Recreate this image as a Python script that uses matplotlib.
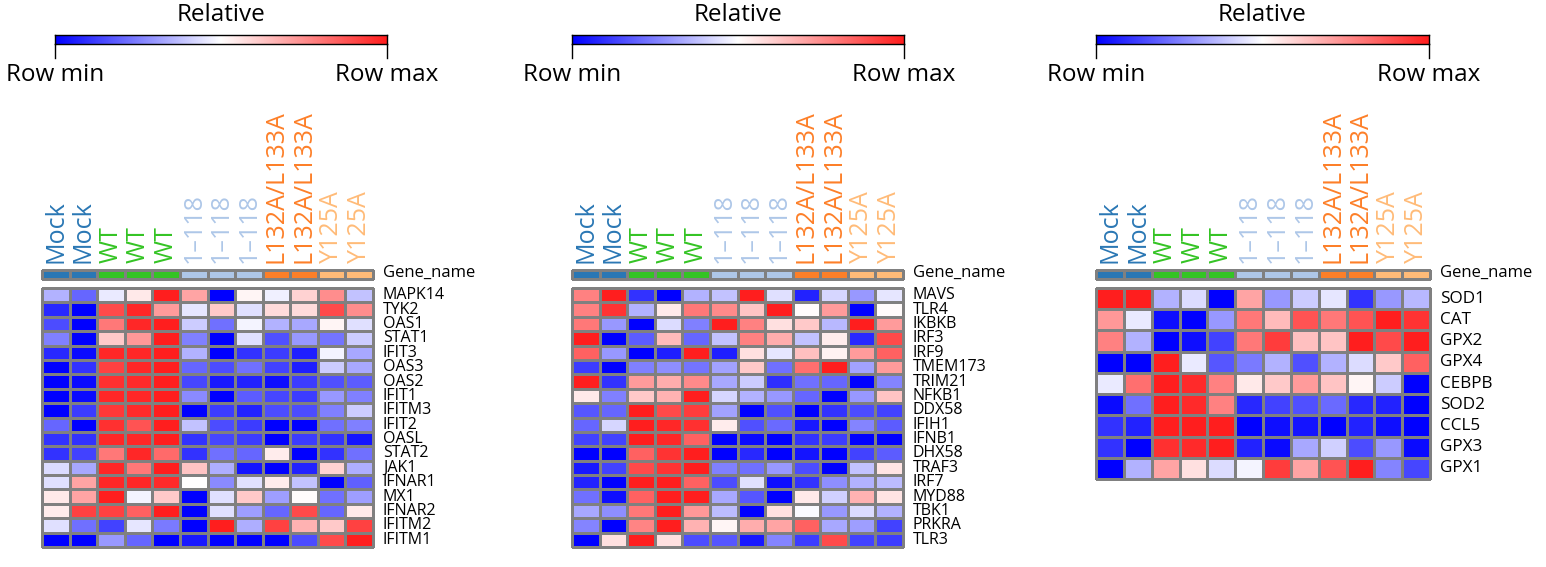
import numpy as np
import matplotlib
matplotlib.use('Agg')
import matplotlib.pyplot as plt
from matplotlib.colors import LinearSegmentedColormap, ListedColormap
from matplotlib.lines import Line2D

plt.rcParams['font.family'] = ['Open Sans', 'DejaVu Sans']

samples = ['Mock', 'Mock', 'WT', 'WT', 'WT', '1\u2013118', '1\u2013118', '1\u2013118',
           'L132A/L133A', 'L132A/L133A', 'Y125A', 'Y125A']
sample_colors = ['#2a77b4', '#2a77b4', '#34c424', '#34c424', '#34c424', '#aec7e8', '#aec7e8',
                 '#aec7e8', '#fd7f28', '#fd7f28', '#ffbb78', '#ffbb78']

genes1 = ['MAPK14', 'TYK2', 'OAS1', 'STAT1', 'IFIT3', 'OAS3', 'OAS2', 'IFIT1', 'IFITM3',
          'IFIT2', 'OASL', 'STAT2', 'JAK1', 'IFNAR1', 'MX1', 'IFNAR2', 'IFITM2', 'IFITM1']
vals1 = [
    [0.35, 0.20, 0.46, 0.55, 1.00, 0.70, 0.00, 0.52, 0.47, 0.60, 0.75, 0.38],
    [0.08, 0.00, 0.90, 0.98, 0.72, 0.45, 0.62, 0.44, 0.58, 0.58, 0.90, 0.75],
    [0.15, 0.00, 0.80, 0.98, 1.00, 0.40, 0.22, 0.48, 0.35, 0.33, 0.52, 0.44],
    [0.25, 0.00, 0.62, 0.73, 1.00, 0.25, 0.00, 0.44, 0.16, 0.30, 0.23, 0.40],
    [0.08, 0.02, 0.98, 0.98, 1.00, 0.35, 0.00, 0.10, 0.12, 0.06, 0.48, 0.33],
    [0.00, 0.10, 0.92, 0.98, 1.00, 0.20, 0.15, 0.22, 0.13, 0.06, 0.40, 0.33],
    [0.00, 0.02, 0.96, 0.97, 1.00, 0.14, 0.05, 0.07, 0.03, 0.12, 0.16, 0.18],
    [0.00, 0.02, 0.98, 0.98, 1.00, 0.27, 0.00, 0.18, 0.14, 0.12, 0.30, 0.25],
    [0.00, 0.12, 0.94, 0.97, 1.00, 0.00, 0.12, 0.07, 0.15, 0.15, 0.25, 0.40],
    [0.20, 0.00, 0.96, 0.88, 1.00, 0.38, 0.15, 0.12, 0.00, 0.00, 0.22, 0.25],
    [0.10, 0.10, 0.98, 0.98, 1.00, 0.10, 0.14, 0.12, 0.00, 0.12, 0.10, 0.04],
    [0.10, 0.13, 0.80, 0.98, 0.83, 0.10, 0.22, 0.20, 0.54, 0.00, 0.10, 0.22],
    [0.43, 0.33, 0.98, 0.80, 1.00, 0.63, 0.34, 0.04, 0.00, 0.07, 0.60, 0.34],
    [0.44, 0.70, 0.98, 0.98, 0.97, 0.50, 0.27, 0.44, 0.54, 0.38, 0.00, 0.19],
    [0.55, 0.70, 1.00, 0.48, 0.62, 0.00, 0.44, 0.62, 0.31, 0.51, 0.22, 0.31],
    [0.54, 0.92, 0.92, 0.85, 1.00, 0.00, 0.44, 0.31, 0.20, 0.90, 0.20, 0.55],
    [0.44, 0.22, 0.13, 0.45, 0.24, 0.00, 1.00, 0.34, 0.92, 0.67, 0.62, 0.92],
    [0.00, 0.00, 0.30, 0.20, 0.00, 0.05, 0.00, 0.00, 0.00, 0.15, 0.90, 1.00],
]

genes2 = ['MAVS', 'TLR4', 'IKBKB', 'IRF3', 'IRF9', 'TMEM173', 'TRIM21', 'NFKB1', 'DDX58',
          'IFIH1', 'IFNB1', 'DHX58', 'TRAF3', 'IRF7', 'MYD88', 'TBK1', 'PRKRA', 'TLR3']
vals2 = [
    [0.78, 1.00, 0.10, 0.00, 0.35, 0.38, 1.00, 0.44, 0.07, 0.42, 0.30, 0.45],
    [0.78, 0.95, 0.35, 0.55, 0.80, 0.76, 0.63, 1.00, 0.51, 0.72, 0.00, 0.51],
    [0.80, 0.30, 0.00, 0.43, 0.25, 1.00, 0.78, 0.57, 0.62, 0.36, 1.00, 0.72],
    [1.00, 0.00, 0.18, 0.65, 0.20, 0.38, 0.78, 0.68, 0.38, 0.54, 0.08, 0.90],
    [0.85, 0.30, 0.00, 0.06, 1.00, 0.06, 0.57, 0.45, 0.64, 0.53, 0.72, 0.85],
    [0.12, 0.00, 0.25, 0.28, 0.23, 0.32, 0.62, 0.22, 0.82, 1.00, 0.32, 0.72],
    [1.00, 0.10, 0.72, 0.68, 0.76, 0.33, 0.40, 0.09, 0.22, 0.20, 0.00, 0.26],
    [0.55, 0.25, 0.62, 0.67, 1.00, 0.42, 0.35, 0.30, 0.20, 0.00, 0.30, 0.63],
    [0.17, 0.20, 1.00, 0.90, 0.93, 0.32, 0.00, 0.16, 0.00, 0.10, 0.15, 0.13],
    [0.20, 0.42, 1.00, 0.98, 0.96, 0.54, 0.16, 0.21, 0.05, 0.00, 0.26, 0.18],
    [0.13, 0.13, 1.00, 0.98, 0.85, 0.00, 0.02, 0.00, 0.10, 0.12, 0.00, 0.00],
    [0.00, 0.00, 0.85, 0.95, 1.00, 0.00, 0.08, 0.00, 0.04, 0.00, 0.13, 0.18],
    [0.05, 0.13, 0.90, 0.95, 1.00, 0.25, 0.22, 0.30, 0.15, 0.00, 0.38, 0.56],
    [0.07, 0.00, 1.00, 1.00, 0.85, 0.15, 0.44, 0.03, 0.10, 0.28, 0.35, 0.37],
    [0.22, 0.03, 0.85, 1.00, 1.00, 0.33, 0.17, 0.00, 0.55, 0.41, 0.67, 0.56],
    [0.33, 0.28, 0.80, 1.00, 0.73, 0.37, 0.00, 0.57, 0.49, 0.30, 0.43, 0.35],
    [0.26, 0.00, 0.77, 1.00, 0.67, 0.52, 0.68, 0.70, 0.85, 0.33, 0.31, 0.13],
    [0.00, 0.57, 1.00, 0.57, 0.15, 0.17, 0.05, 0.26, 0.12, 0.90, 0.13, 0.12],
]

genes3 = ['SOD1', 'CAT', 'GPX2', 'GPX4', 'CEBPB', 'SOD2', 'CCL5', 'GPX3', 'GPX1']
vals3 = [
    [1.00, 1.00, 0.35, 0.43, 0.00, 0.70, 0.30, 0.40, 0.45, 0.10, 0.30, 0.36],
    [0.73, 0.46, 0.03, 0.00, 0.30, 0.80, 0.65, 0.88, 0.80, 0.88, 1.00, 0.95],
    [0.78, 0.35, 0.00, 0.03, 0.13, 0.80, 0.93, 0.64, 0.63, 1.00, 0.90, 1.00],
    [0.00, 0.00, 1.00, 0.46, 0.17, 0.24, 0.35, 0.16, 0.35, 0.43, 0.62, 0.85],
    [0.46, 0.82, 1.00, 0.97, 0.78, 0.55, 0.62, 0.72, 0.63, 0.52, 0.40, 0.00],
    [0.02, 0.22, 1.00, 0.97, 0.78, 0.08, 0.13, 0.16, 0.21, 0.08, 0.07, 0.00],
    [0.10, 0.07, 1.00, 1.00, 1.00, 0.00, 0.03, 0.04, 0.00, 0.07, 0.03, 0.00],
    [0.10, 0.00, 0.96, 0.97, 1.00, 0.07, 0.02, 0.33, 0.41, 0.15, 0.30, 0.02],
    [0.00, 0.35, 0.70, 0.57, 0.43, 0.48, 0.93, 0.70, 0.88, 1.00, 0.26, 0.14],
]

cmap = LinearSegmentedColormap.from_list('bwr2', ['#0000ff', '#ffffff', '#ff1e1e'])

W, H = 1546, 567
fig = plt.figure(figsize=(W / 100, H / 100), dpi=100)


def box(x0, y0, x1, y1):
    ax = fig.add_axes([x0 / W, 1 - y1 / H, (x1 - x0) / W, (y1 - y0) / H])
    return ax


def ftext(x, y, s, **kw):
    fig.text(x / W, 1 - y / H, s, **kw)


# genes, values, heatmap box (x0, x1, y0, y1), colour key ends, gene label size
panels = [
    (genes1, vals1, 42, 373, 288, 547, 55, 387, 11.5),
    (genes2, vals2, 572, 903, 288, 547, 572, 904, 11.5),
    (genes3, vals3, 1096, 1430, 288, 479, 1096, 1429, 12.3),
]

for genes, vals, x0, x1, y0, y1, bx0, bx1, gfs in panels:
    # colour key
    cax = box(bx0, 35, bx1, 44)
    cax.imshow(np.linspace(0, 1, 256)[None, :], cmap=cmap, aspect='auto')
    cax.set_xticks([])
    cax.set_yticks([])
    for sp in cax.spines.values():
        sp.set_linewidth(1)
    for bx in (bx0, bx1):
        fig.add_artist(Line2D([bx / W, bx / W], [1 - 44 / H, 1 - 58 / H], color='black', lw=1))
    ftext((bx0 + bx1) / 2, 15, 'Relative', ha='center', va='center', fontsize=17.5)
    ftext(bx0, 75, 'Row min', ha='center', va='center', fontsize=17.5)
    ftext(bx1, 75, 'Row max', ha='center', va='center', fontsize=17.5)

    # sample group bar
    gax = box(x0, 270, x1, 279)
    gax.pcolormesh(np.arange(12)[None, :], cmap=ListedColormap(sample_colors), vmin=-0.5, vmax=11.5,
                   edgecolors='#808080', linewidth=1.0, clip_on=False)
    gax.set_xlim(0, 12)
    gax.set_ylim(1, 0)
    gax.axis('off')
    ftext(x1 + 10, 273, 'Gene_name', ha='left', va='center', fontsize=12)

    colw = (x1 - x0) / 12
    for j, (s, c) in enumerate(zip(samples, sample_colors)):
        ftext(x0 + (j + 0.5) * colw, 263, s, ha='center', va='bottom', rotation=90,
              color=c, fontsize=18)

    # heatmap
    hax = box(x0, y0, x1, y1)
    hax.pcolormesh(np.array(vals), cmap=cmap, vmin=0, vmax=1, edgecolors='#808080',
                   linewidth=0.75, clip_on=False)
    hax.set_xlim(0, 12)
    hax.set_ylim(len(genes), 0)
    hax.axis('off')
    rowh = (y1 - y0) / len(genes)
    for i, g in enumerate(genes):
        ftext(x1 + 10, y0 + (i + 0.5) * rowh, g, ha='left', va='center', fontsize=gfs)

fig.savefig('out.png', dpi=100)
